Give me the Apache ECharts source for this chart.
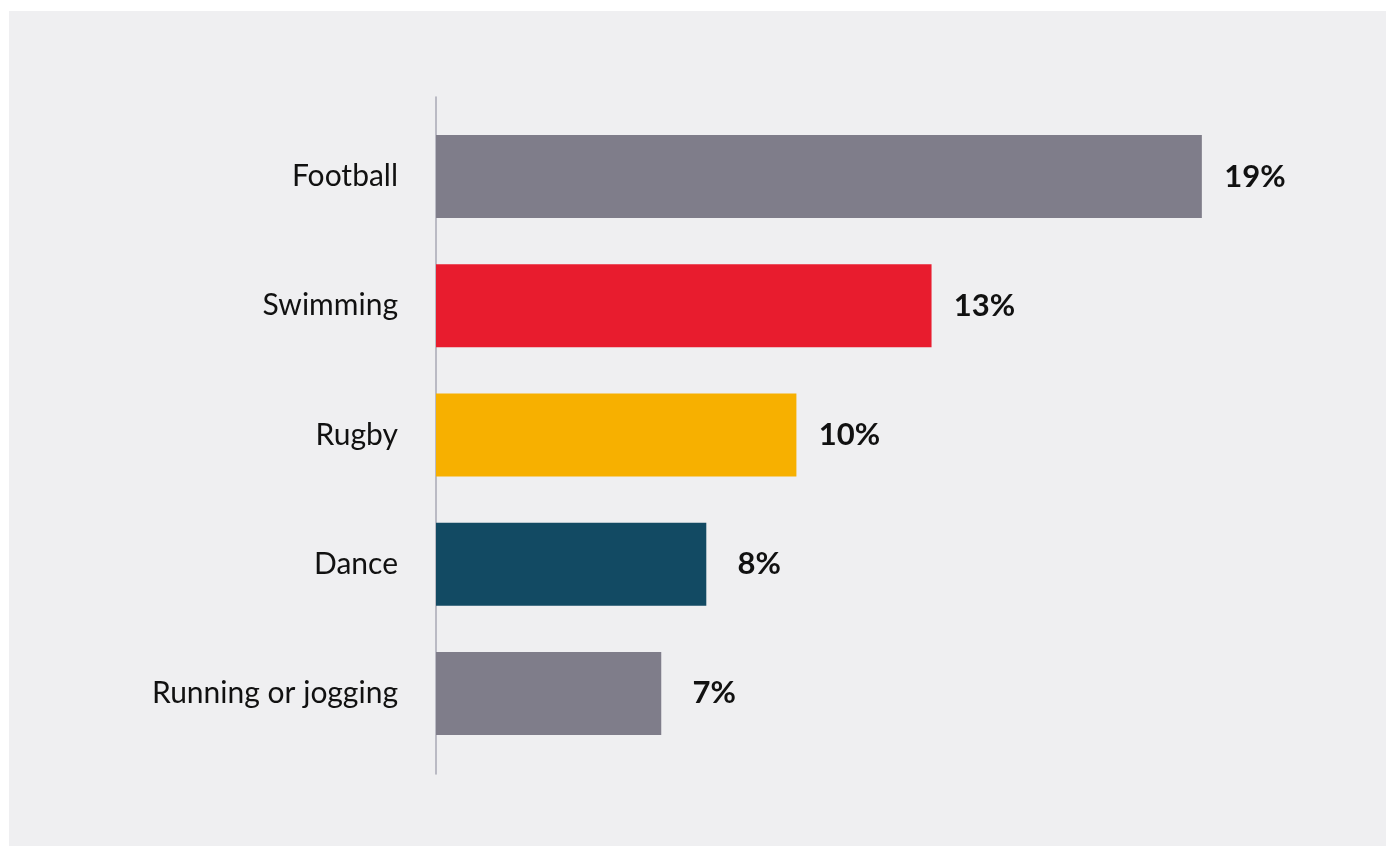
<!DOCTYPE html>
<html>
<head>
<meta charset="utf-8">
<script src="https://cdn.jsdelivr.net/npm/echarts@6/dist/echarts.min.js"></script>
<style>
  html, body { margin: 0; padding: 0; background: #ffffff; }
  #chart { width: 1391px; height: 846px; }
</style>
</head>
<body>
<div id="chart"></div>
<script>
// Share of people taking part, by sport
const sports = ['Football', 'Swimming', 'Rugby', 'Dance', 'Running or jogging'];
const shares = [19, 13, 10, 8, 7];
const barColors = ['#7f7d8a', '#e81c2e', '#f7b000', '#124a63', '#7f7d8a'];

const fontFamily = 'Lato, "Noto Sans", sans-serif';

const chart = echarts.init(document.getElementById('chart'), null, { renderer: 'canvas' });

chart.setOption({
  backgroundColor: '#ffffff',
  animation: false,
  graphic: [{
    type: 'rect',
    z: -10,
    silent: true,
    shape: { x: 9, y: 11, width: 1377, height: 835 },
    style: { fill: '#efeff1' }
  }],
  grid: [
    // plotting area for the bars
    { left: 436, right: 54, top: 112, bottom: 88, containLabel: false },
    // slightly taller area that only carries the vertical baseline
    { left: 436, right: 54, top: 97, bottom: 72, containLabel: false }
  ],
  xAxis: [
    { type: 'value', gridIndex: 0, min: 2, max: 22, show: false },
    { type: 'value', gridIndex: 1, min: 2, max: 22, show: false }
  ],
  yAxis: [
    {
      type: 'category',
      gridIndex: 0,
      inverse: true,
      data: sports,
      axisLine: { show: false },
      axisTick: { show: false },
      axisLabel: {
        margin: 38,
        fontSize: 30,
        color: '#111111',
        fontFamily: fontFamily
      }
    },
    {
      type: 'category',
      gridIndex: 1,
      data: [''],
      axisLine: { show: true, lineStyle: { color: '#a9a9b4', width: 1.5 } },
      axisTick: { show: false },
      axisLabel: { show: false }
    }
  ],
  series: [{
    type: 'bar',
    xAxisIndex: 0,
    yAxisIndex: 0,
    barWidth: 83,
    data: shares.map((v, i) => ({ value: v, itemStyle: { color: barColors[i] } })),
    label: {
      show: true,
      position: 'right',
      distance: 53,
      align: 'center',
      formatter: '{c}%',
      fontSize: 31,
      fontWeight: 'bold',
      color: '#111111',
      fontFamily: fontFamily
    }
  }]
});
</script>
</body>
</html>
